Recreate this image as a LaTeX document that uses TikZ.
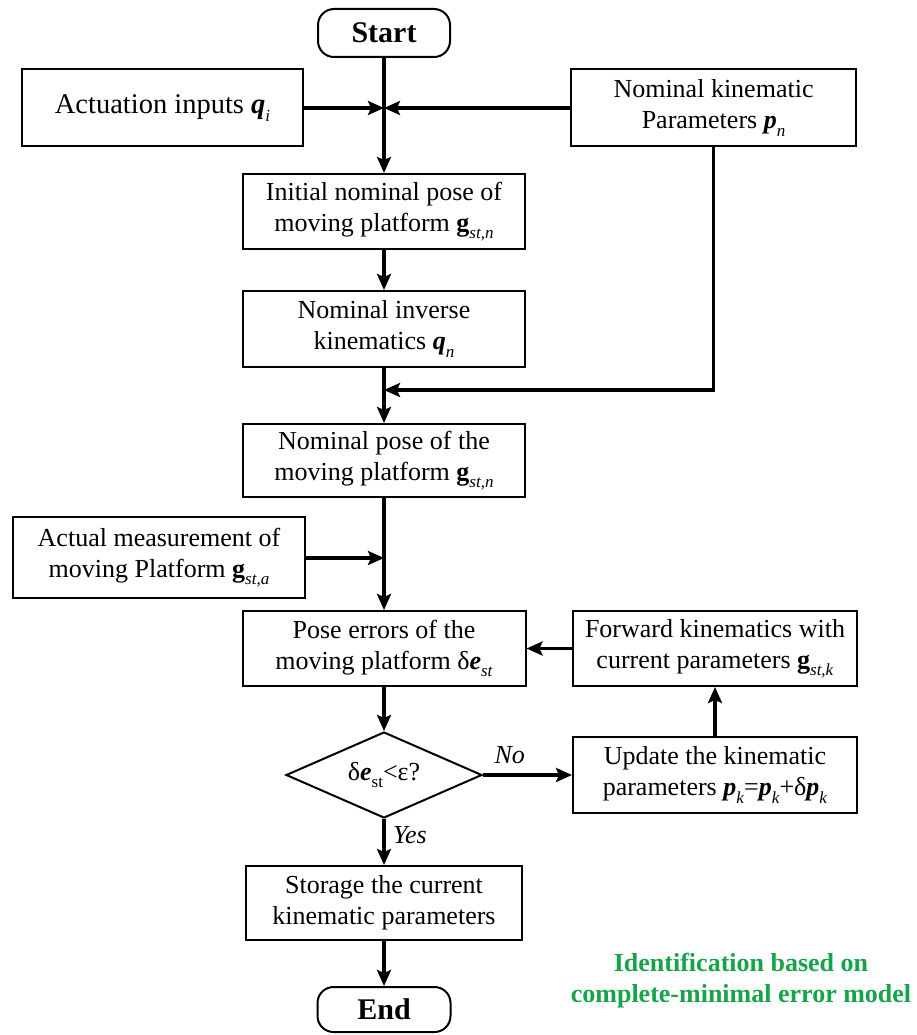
\documentclass[tikz,border=0pt]{standalone}
\usepackage{fontspec}
\setmainfont{Liberation Serif}
\usetikzlibrary{arrows.meta,shapes.geometric}
\definecolor{idgreen}{RGB}{22,163,74}
\newcommand{\sbs}[1]{\raisebox{-0.28em}{\fontsize{17}{17}\selectfont #1}}
\newcommand{\bi}[1]{\textbf{\textit{#1}}}
\tikzset{
  box/.style={draw, line width=2pt, align=center, inner sep=0pt, font=\fontsize{26}{31}\selectfont},
  term/.style={draw, line width=2pt, rounded corners=16pt, inner sep=0pt, font=\bfseries\fontsize{30}{30}\selectfont},
  arr/.style={line width=3.4pt, -{Stealth[length=16pt,width=14pt,inset=3pt]}},
  plain/.style={line width=3.4pt},
  lbl/.style={font=\itshape\fontsize{26}{26}\selectfont},
}
\begin{document}
\begin{tikzpicture}[x=1pt,y=-1pt]
\useasboundingbox (0,0) rectangle (917,1035);
% nodes
\node[term, minimum width=132pt, minimum height=48pt] (start) at (384,33) {Start};
\node[box, minimum width=281pt, minimum height=77pt, font=\fontsize{28.5}{31}\selectfont] (act) at (162.5,108) {Actuation inputs \bi{q}\sbs{\textit{i}}};
\node[box, minimum width=285pt, minimum height=77pt] (nom) at (713.5,108) {Nominal kinematic\\Parameters \bi{p}\sbs{\textit{n}}};
\node[box, minimum width=282pt, minimum height=75pt] (init) at (384,211.5) {Initial nominal pose of\\moving platform \textbf{g}\sbs{\textit{st,n}}};
\node[box, minimum width=282pt, minimum height=76pt] (inv) at (384,329) {Nominal inverse\\kinematics \bi{q}\sbs{\textit{n}}};
\node[box, minimum width=282pt, minimum height=73pt] (pose) at (384,460.5) {Nominal pose of the\\moving platform \textbf{g}\sbs{\textit{st,n}}};
\node[box, minimum width=292pt, minimum height=81pt] (meas) at (159,557.5) {Actual measurement of\\moving Platform \textbf{g}\sbs{\textit{st,a}}};
\node[box, minimum width=283pt, minimum height=75pt] (err) at (384,648.5) {Pose errors of the\\moving platform δ\bi{e}\sbs{\textit{st}}};
\node[box, minimum width=284pt, minimum height=75pt] (fwd) at (715,648.5) {Forward kinematics with\\current parameters \textbf{g}\sbs{\textit{st,k}}};
\node[draw, line width=2pt, diamond, aspect=2.28, minimum width=196pt, minimum height=86pt, inner sep=0pt, font=\fontsize{26}{26}\selectfont] (dec) at (384,775) {δ\bi{e}\sbs{st}<ε?};
\node[box, minimum width=284pt, minimum height=76pt] (upd) at (715,775) {Update the kinematic\\parameters \bi{p}\sbs{\textit{k}}=\bi{p}\sbs{\textit{k}}+δ\bi{p}\sbs{\textit{k}}};
\node[box, minimum width=276pt, minimum height=74pt] (stor) at (384,903) {Storage the current\\kinematic parameters};
\node[term, minimum width=133pt, minimum height=45pt] (end) at (384,1009.5) {End};
\node[align=center, text=idgreen, font=\bfseries\fontsize{26}{31}\selectfont] (note) at (741,981) {Identification based on\\complete-minimal error model};
% junction coordinates
\coordinate (j1) at (384,108);
\coordinate (j2) at (384,390);
\coordinate (j3) at (384,558);
% connectors
\draw[arr] (start.south) -- (init.north);
\draw[arr] (act.east) -- (j1);
\draw[arr] (nom.west) -- (j1);
\draw[arr] (init.south) -- (inv.north);
\draw[plain] (inv.south) -- (j2);
\draw[arr] (nom.south) |- (j2);
\draw[arr] (j2) -- (pose.north);
\draw[arr] (pose.south) -- (err.north);
\draw[arr] (meas.east |- j3) -- (j3);
\draw[arr] (fwd.west) -- (err.east);
\draw[arr] (err.south) -- (dec.north);
\draw[arr] (dec.east) -- node[lbl, pos=0.3, above=6pt] (no) {No} (upd.west);
\draw[arr] (upd.north) -- (fwd.south);
\draw[arr] (dec.south) -- node[lbl, pos=0.35, right=4pt] (yes) {Yes} (stor.north);
\draw[arr] (stor.south) -- (end.north);
\end{tikzpicture}
\end{document}
